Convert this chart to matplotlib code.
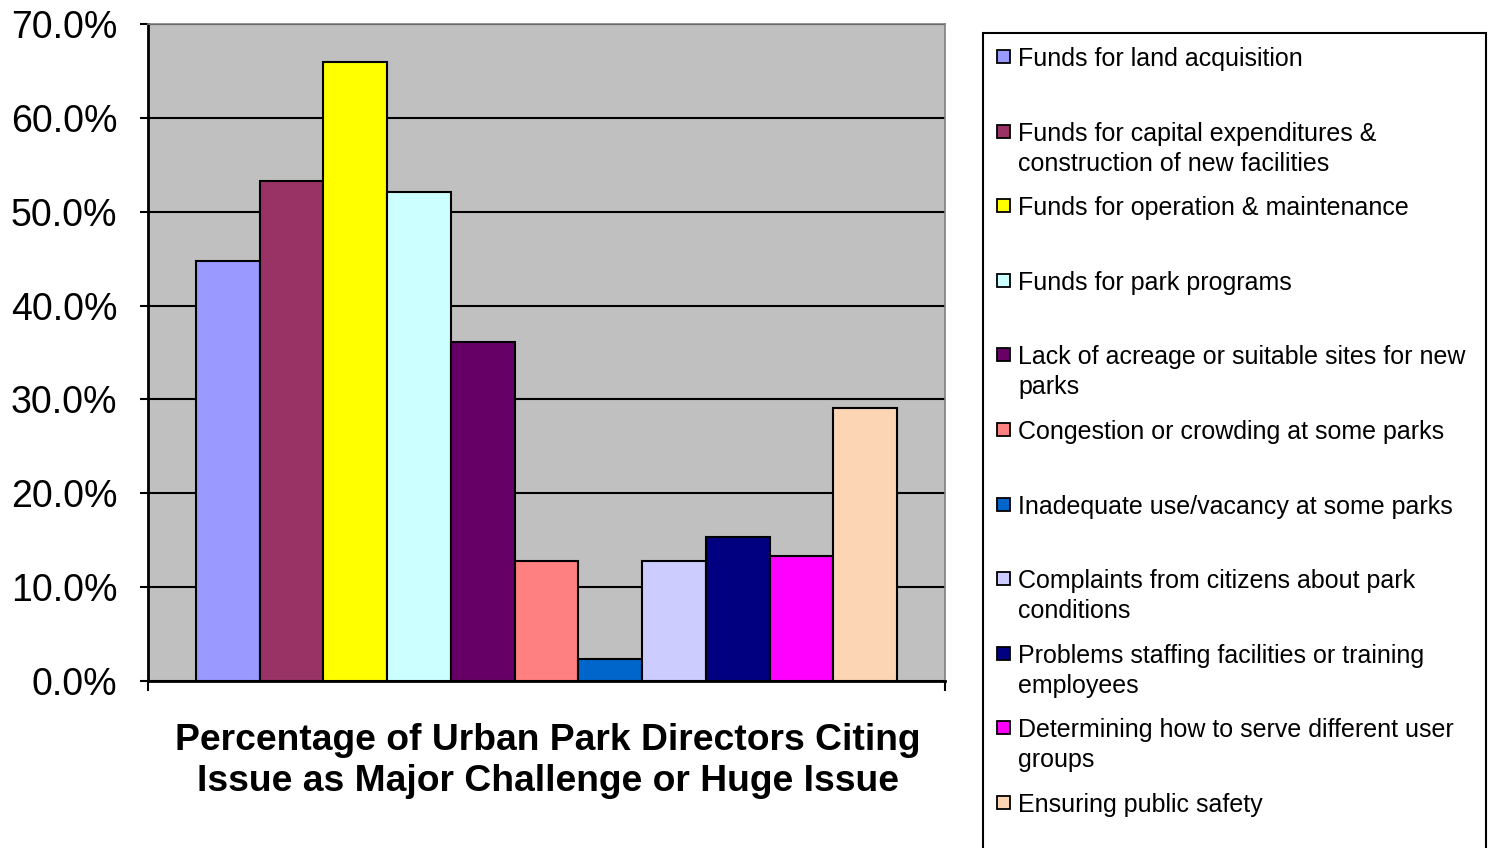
import matplotlib.pyplot as plt
from matplotlib.patches import Rectangle
from matplotlib.ticker import PercentFormatter

plt.rcParams['font.family'] = ['Liberation Sans', 'DejaVu Sans']

issues = [
    'Funds for land acquisition',
    'Funds for capital expenditures &\nconstruction of new facilities',
    'Funds for operation & maintenance',
    'Funds for park programs',
    'Lack of acreage or suitable sites for new\nparks',
    'Congestion or crowding at some parks',
    'Inadequate use/vacancy at some parks',
    'Complaints from citizens about park\nconditions',
    'Problems staffing facilities or training\nemployees',
    'Determining how to serve different user\ngroups',
    'Ensuring public safety',
]
pct = [44.7, 53.3, 66.0, 52.1, 36.1, 12.8, 2.3, 12.8, 15.3, 13.3, 29.1]
colors = ['#9999FF', '#993366', '#FFFF00', '#CCFFFF', '#660066', '#FF8080',
          '#0066CC', '#CCCCFF', '#000080', '#FF00FF', '#FCD5B5']
title = 'Percentage of Urban Park Directors Citing\nIssue as Major Challenge or Huge Issue'

W, H = 1488, 848
fig = plt.figure(figsize=(W / 100, H / 100), dpi=100)
ax = fig.add_axes([148 / W, 1 - 681 / H, (945 - 148) / W, (681 - 24) / H])
ax.set_facecolor('#C0C0C0')

xs = list(range(len(pct)))
ax.bar(xs, pct, width=1.0, color=colors, edgecolor='black', linewidth=1.5, zorder=3)

ax.set_ylim(0, 70)
ax.set_xlim(-1.25, len(pct) - 1 + 1.25)
ax.set_yticks(range(0, 71, 10))
ax.yaxis.set_major_formatter(PercentFormatter(decimals=1))
ax.set_xticks([-1.25, len(pct) - 1 + 1.25])
ax.set_xticklabels([])
ax.yaxis.grid(True, color='black', linewidth=1.5, zorder=1)
ax.tick_params(axis='y', direction='out', length=6, width=1.5, pad=16, labelsize=27)
ax.tick_params(axis='x', direction='out', length=7, width=1.5)
for s in ('left', 'bottom'):
    ax.spines[s].set_linewidth(2)
    ax.spines[s].set_color('black')
for s in ('top', 'right'):
    ax.spines[s].set_linewidth(1.2)
    ax.spines[s].set_color('#808080')

fig.text(548 / W, 1 - 761 / H, title, ha='center', va='center',
         fontsize=26.8, fontweight='bold', linespacing=1.2)

# legend box drawn by hand so the swatch sits on the first text line
fig.patches.append(Rectangle((983 / W, -0.05), (1486 - 983) / W, 1.05 - 33 / H,
                             transform=fig.transFigure, facecolor='white',
                             edgecolor='black', linewidth=1.5))
row0, step, line = 57, 74.6, 30
for i, (lab, c) in enumerate(zip(issues, colors)):
    yc = row0 + i * step
    fig.patches.append(Rectangle((997 / W, 1 - (yc + 6) / H), 13 / W, 13 / H,
                                 transform=fig.transFigure, facecolor=c,
                                 edgecolor='black', linewidth=1.3))
    for j, part in enumerate(lab.split('\n')):
        fig.text(1018 / W, 1 - (yc + 2 + j * line) / H, part, ha='left',
                 va='center', fontsize=18)

fig.savefig('out.png', dpi=100)
